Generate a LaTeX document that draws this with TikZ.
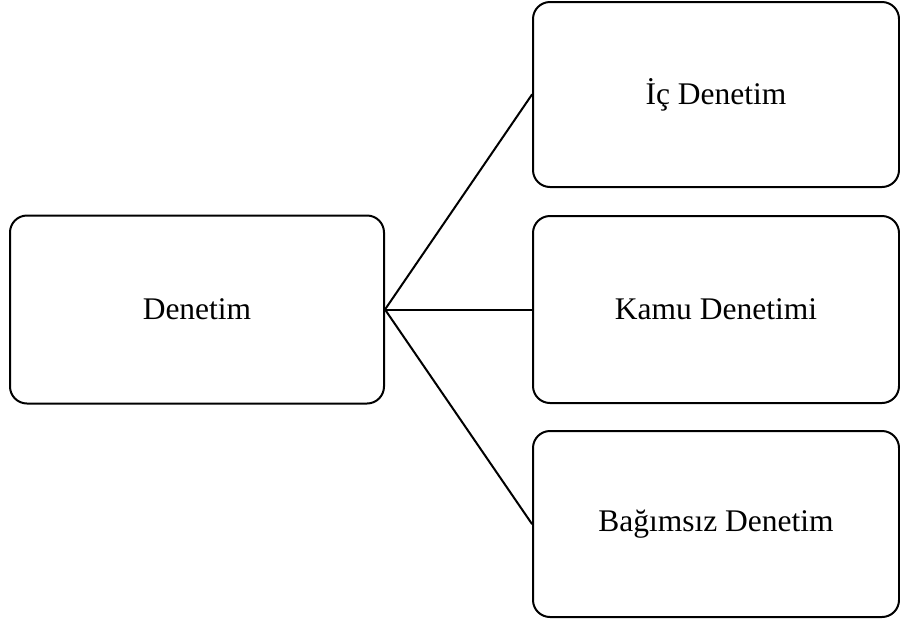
\documentclass[tikz,border=0pt]{standalone}
\usepackage{fontspec}
\setmainfont{Liberation Serif}
\begin{document}
\begin{tikzpicture}[x=1pt,y=-1pt,line join=round,line cap=round,line width=2pt,
	kutu/.style={draw,rounded corners=17pt,inner sep=0pt,align=center,
		font=\fontsize{31.5}{38}\selectfont}]
		\useasboundingbox (0,0) rectangle (900,625);
		\node[kutu,minimum width=374pt,minimum height=188pt] (denetim) at (197,309.5) {Denetim};
		\node[kutu,minimum width=366pt,minimum height=185pt] (ic) at (716,94.5) {İç Denetim};
		\node[kutu,minimum width=366pt,minimum height=187pt] (kamu) at (716,309.5) {Kamu Denetimi};
		\node[kutu,minimum width=366pt,minimum height=186pt] (bagimsiz) at (716,524) {Bağımsız Denetim};
		\draw (denetim.east)--(ic.west);
		\draw (denetim.east)--(kamu.west);
		\draw (denetim.east)--(bagimsiz.west);
\end{tikzpicture}
\end{document}
